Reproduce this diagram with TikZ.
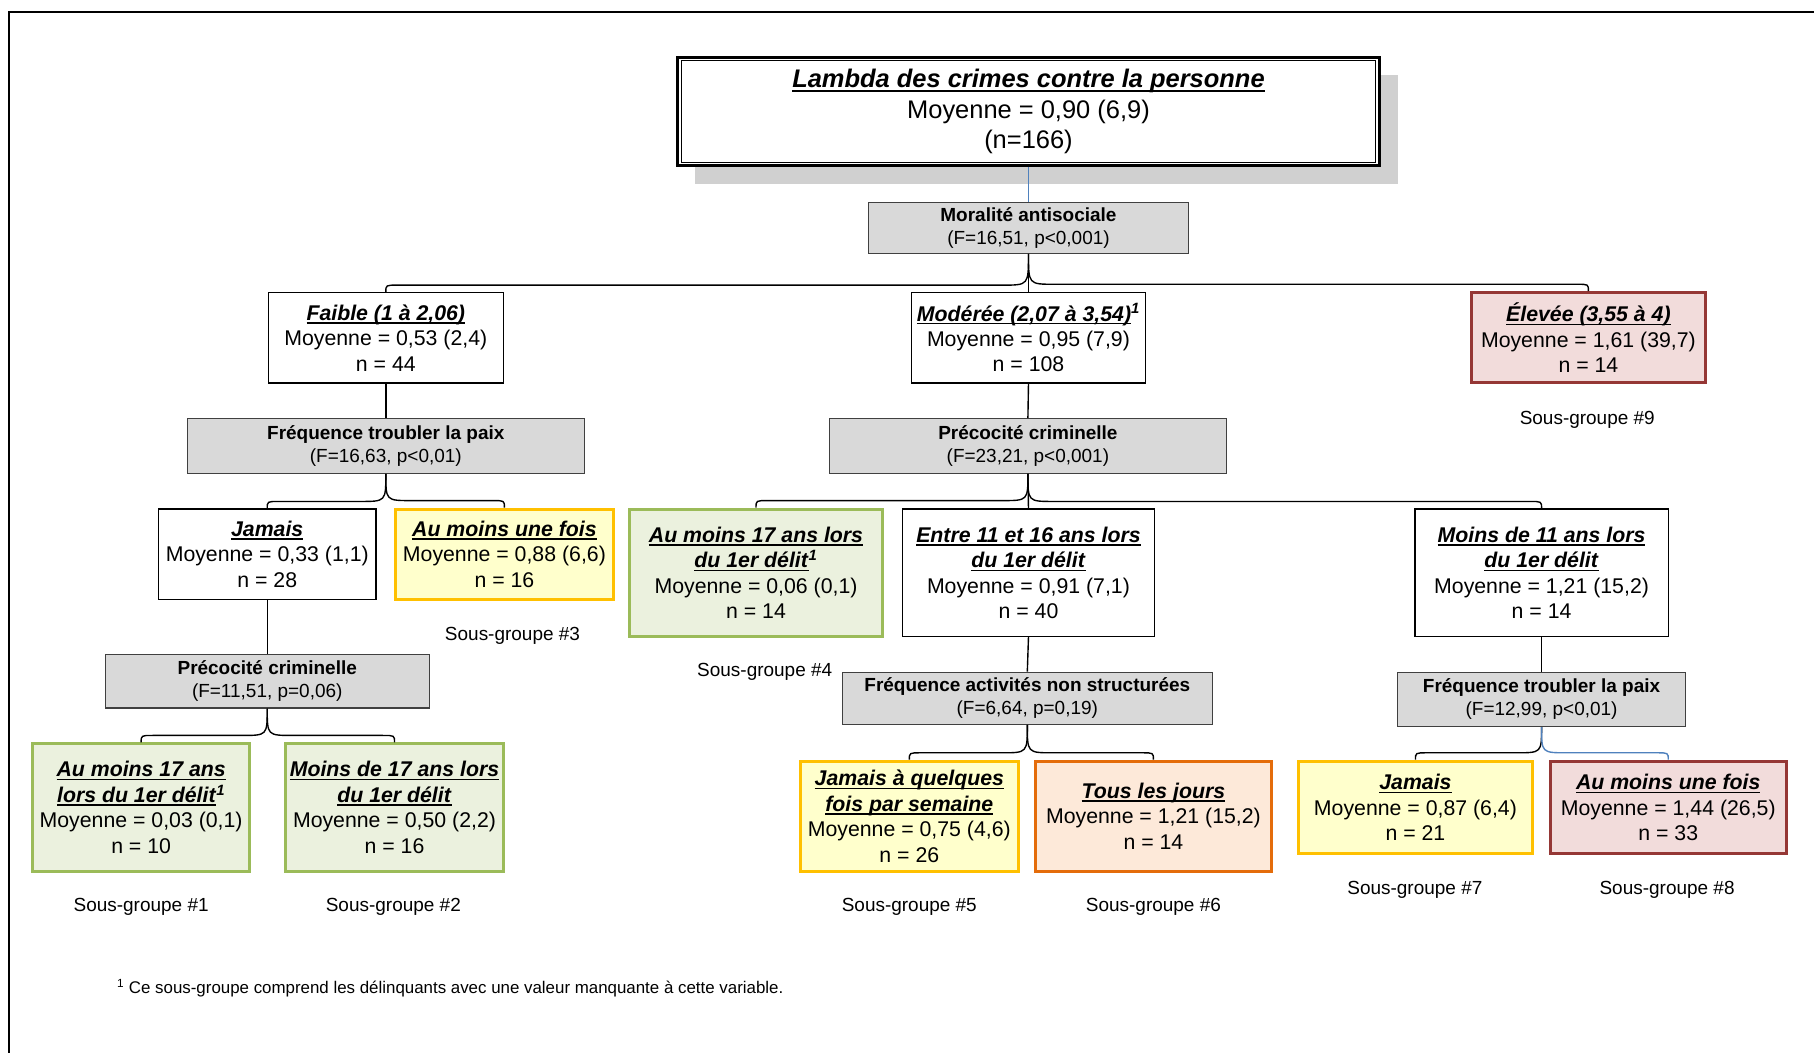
\documentclass[tikz,border=0pt]{standalone}
\usepackage{fontspec}
\setmainfont{Liberation Sans}
\usetikzlibrary{calc}

\definecolor{qgray}{HTML}{D9D9D9}
\definecolor{shadowc}{HTML}{D0D0D0}
\definecolor{grnB}{HTML}{9BBB59}
\definecolor{grnF}{HTML}{EBF1DE}
\definecolor{yelB}{HTML}{FFC000}
\definecolor{yelF}{HTML}{FFFFCC}
\definecolor{redB}{HTML}{953735}
\definecolor{redF}{HTML}{F2DCDB}
\definecolor{orgB}{HTML}{E46C0A}
\definecolor{orgF}{HTML}{FDE9D9}
\definecolor{linkblue}{HTML}{4F81BD}

% bold italic title with an underline at a fixed depth below the baseline
\newsavebox\ttlbox
\newcommand\ttl[1]{\sbox\ttlbox{\textbf{\textit{#1}}}%
  \rlap{\rule[-0.16em]{\wd\ttlbox}{0.065em}}\usebox\ttlbox}
\newcommand\fnmark{\textsuperscript{\textbf{\textit{1}}}}

% curved brace-like connector: parent -> child, #4 = +1 (right) or -1 (left)
\newcommand\brnch[4][]{%
  \draw[conn,#1] let \p1=(#2.south), \p2=(#3.north) in
    (\p1) .. controls (\x1,{\y2+6pt}) .. ({\x1+(#4)*22pt},{\y2+6pt})
    -- ({\x2-(#4)*10pt},{\y2+6pt}) .. controls (\x2,{\y2+6pt}) .. (\p2);}

\tikzset{
  base/.style={align=center, inner sep=0pt, font=\fontsize{18.4}{22}\selectfont},
  wbox/.style={base, draw=black, line width=1.1pt, fill=white},
  gbox/.style={base, draw=black!75, line width=1pt, fill=qgray,
               font=\fontsize{16.4}{20}\selectfont},
  grnbox/.style={base, draw=grnB, fill=grnF, line width=2.6pt},
  yelbox/.style={base, draw=yelB, fill=yelF, line width=2.6pt},
  redbox/.style={base, draw=redB, fill=redF, line width=2.6pt},
  orgbox/.style={base, draw=orgB, fill=orgF, line width=2.6pt},
  sg/.style={inner sep=0pt, font=\fontsize{16.4}{20}\selectfont},
  conn/.style={line width=1.2pt, black},
}

\begin{document}
\begin{tikzpicture}[x=1pt,y=-1pt]
\useasboundingbox (0,0) rectangle (1568,910);

% page frame
\draw[line width=1.8pt] (8,910) -- (8,10) -- (1568,10);

% root with shadow and double frame
\node[fill=shadowc, inner sep=0pt, minimum width=608pt, minimum height=94pt] (rootshadow) at (904.5,112) {};
\node[draw=black, line width=2.6pt, fill=white, inner sep=0pt, align=center,
      minimum width=606pt, minimum height=93pt,
      font=\fontsize{22}{26.5}\selectfont] (root) at (889,96.5)
  {\ttl{Lambda des crimes contre la personne}\\Moyenne = 0,90 (6,9)\\(n=166)};
\draw[line width=0.9pt] ([shift={(4pt,4pt)}]root.south west) rectangle ([shift={(-4pt,-4pt)}]root.north east);

% level 1
\node[gbox, minimum width=276pt, minimum height=44pt] (mor) at (889,197)
  {\textbf{Moralité antisociale}\\(F=16,51, p<0,001)};

\node[wbox, minimum width=203pt, minimum height=78pt] (faible) at (333.5,292)
  {\ttl{Faible (1 à 2,06)}\\Moyenne = 0,53 (2,4)\\n = 44};
\node[wbox, minimum width=202pt, minimum height=78pt] (moderee) at (889,292)
  {\ttl{Modérée (2,07 à 3,54)}\fnmark\\Moyenne = 0,95 (7,9)\\n = 108};
\node[redbox, minimum width=202pt, minimum height=78pt] (eleve) at (1373,292)
  {\ttl{Élevée (3,55 à 4)}\\Moyenne = 1,61 (39,7)\\n = 14};
\node[sg] (sg9) at (1372,363) {Sous-groupe \#9};

% level 2
\node[gbox, minimum width=343pt, minimum height=47pt] (freqL) at (333.5,385.5)
  {\textbf{Fréquence troubler la paix}\\(F=16,63, p<0,01)};
\node[gbox, minimum width=343pt, minimum height=47pt] (precM) at (888.5,385.5)
  {\textbf{Précocité criminelle}\\(F=23,21, p<0,001)};

\node[wbox, minimum width=188pt, minimum height=78pt] (jamL) at (231,479)
  {\ttl{Jamais}\\Moyenne = 0,33 (1,1)\\n = 28};
\node[yelbox, minimum width=188pt, minimum height=78pt] (aumL) at (436,479)
  {\ttl{Au moins une fois}\\Moyenne = 0,88 (6,6)\\n = 16};
\node[sg] (sg3) at (443,550) {Sous-groupe \#3};

\node[grnbox, minimum width=219pt, minimum height=110pt] (am17M) at (653.5,495)
  {\ttl{Au moins 17 ans lors}\\\ttl{du 1er délit}\fnmark\\Moyenne = 0,06 (0,1)\\n = 14};
\node[wbox, minimum width=218pt, minimum height=110pt] (entre) at (889,495)
  {\ttl{Entre 11 et 16 ans lors}\\\ttl{du 1er délit}\\Moyenne = 0,91 (7,1)\\n = 40};
\node[wbox, minimum width=219pt, minimum height=110pt] (moins11) at (1332.5,495)
  {\ttl{Moins de 11 ans lors}\\\ttl{du 1er délit}\\Moyenne = 1,21 (15,2)\\n = 14};
\node[sg] (sg4) at (661,581) {Sous-groupe \#4};

% level 3
\node[gbox, minimum width=280pt, minimum height=46pt] (precL) at (231,589)
  {\textbf{Précocité criminelle}\\(F=11,51, p=0,06)};
\node[gbox, minimum width=320pt, minimum height=45pt] (freqA) at (888,603.5)
  {\textbf{Fréquence activités non structurées}\\(F=6,64, p=0,19)};
\node[gbox, minimum width=249pt, minimum height=47pt] (freqR) at (1332.5,604.5)
  {\textbf{Fréquence troubler la paix}\\(F=12,99, p<0,01)};

% leaves
\node[grnbox, minimum width=188pt, minimum height=110pt] (am17L) at (122,698)
  {\ttl{Au moins 17 ans}\\\ttl{lors du 1er délit}\fnmark\\Moyenne = 0,03 (0,1)\\n = 10};
\node[grnbox, minimum width=188pt, minimum height=110pt] (moins17) at (341,698)
  {\ttl{Moins de 17 ans lors}\\\ttl{du 1er délit}\\Moyenne = 0,50 (2,2)\\n = 16};
\node[sg] (sg1) at (122,784) {Sous-groupe \#1};
\node[sg] (sg2) at (340,784) {Sous-groupe \#2};

\node[yelbox, minimum width=188pt, minimum height=95pt] (jamQ) at (786,705.5)
  {\ttl{Jamais à quelques}\\\ttl{fois par semaine}\\Moyenne = 0,75 (4,6)\\n = 26};
\node[orgbox, minimum width=204pt, minimum height=95pt] (tous) at (997,705.5)
  {\ttl{Tous les jours}\\Moyenne = 1,21 (15,2)\\n = 14};
\node[sg] (sg5) at (786,784) {Sous-groupe \#5};
\node[sg] (sg6) at (997,784) {Sous-groupe \#6};

\node[yelbox, minimum width=203pt, minimum height=80pt] (jamR) at (1223.5,698)
  {\ttl{Jamais}\\Moyenne = 0,87 (6,4)\\n = 21};
\node[redbox, minimum width=204pt, minimum height=80pt] (aumR) at (1442,698)
  {\ttl{Au moins une fois}\\Moyenne = 1,44 (26,5)\\n = 33};
\node[sg] (sg7) at (1223,769) {Sous-groupe \#7};
\node[sg] (sg8) at (1441,769) {Sous-groupe \#8};

% footnote
\node[inner sep=0pt, anchor=west, font=\fontsize{14.6}{18}\selectfont] (foot) at (101,854)
  {\textsuperscript{1} Ce sous-groupe comprend les délinquants avec une valeur manquante à cette variable.};

% connectors
\draw[conn, linkblue] (root.south) -- (mor.north);
\brnch{mor}{faible}{-1}
\draw[conn] (mor.south) -- (moderee.north);
\brnch{mor}{eleve}{1}
\draw[conn] (faible.south) -- (freqL.north);
\draw[conn] (moderee.south) -- (precM.north);
\brnch{freqL}{jamL}{-1}
\brnch{freqL}{aumL}{1}
\brnch{precM}{am17M}{-1}
\draw[conn] (precM.south) -- (entre.north);
\brnch{precM}{moins11}{1}
\draw[conn] (jamL.south) -- (precL.north);
\draw[conn] (entre.south) -- (freqA.north);
\draw[conn] (moins11.south) -- (freqR.north);
\brnch{precL}{am17L}{-1}
\brnch{precL}{moins17}{1}
\brnch{freqA}{jamQ}{-1}
\brnch{freqA}{tous}{1}
\brnch{freqR}{jamR}{-1}
\brnch[linkblue]{freqR}{aumR}{1}
\end{tikzpicture}
\end{document}
